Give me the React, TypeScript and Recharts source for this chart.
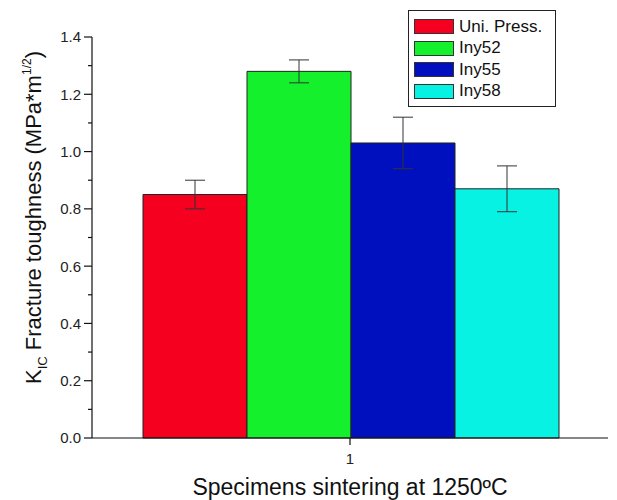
import React from "react";
import { BarChart, Bar, XAxis, YAxis, ErrorBar, Legend } from "recharts";

const categories = ["1"];
const seriesNames = ["Uni. Press.", "Iny52", "Iny55", "Iny58"];
const seriesValues = [0.85, 1.28, 1.03, 0.87];
const seriesErrors = [0.05, 0.04, 0.09, 0.08];
const yTicks = [0, 0.1, 0.2, 0.3, 0.4, 0.5, 0.6, 0.7, 0.8, 0.9, 1.0, 1.1, 1.2, 1.3, 1.4];

const colors = ["#f5001e", "#14f02c", "#0010bf", "#08f2e4"];
const font = "Arial, 'Liberation Sans', sans-serif";

const data = categories.map((name) => {
  const row: Record<string, string | number> = { name };
  seriesValues.forEach((v, i) => {
    row[`v${i}`] = v;
    row[`e${i}`] = seriesErrors[i];
  });
  return row;
});

// major ticks get a label, minor ones only a short line
const YTick = (props: any) => {
  const { x, y, payload } = props;
  const axisX = x + 11;
  const major = Math.round(payload.value * 10) % 2 === 0;
  return (
    <g>
      <line x1={axisX - (major ? 8 : 4)} x2={axisX} y1={y} y2={y} stroke="#111" strokeWidth={1.2} />
      {major && (
        <text x={x} y={y} dy="0.36em" textAnchor="end" fontSize={15} fill="#222" fontFamily={font}>
          {payload.value.toFixed(1)}
        </text>
      )}
    </g>
  );
};

const YLabel = (props: any) => {
  const { viewBox } = props;
  const cx = viewBox.x + 41;
  const cy = viewBox.y + viewBox.height / 2 - 20;
  return (
    <text
      x={cx}
      y={cy}
      transform={`rotate(-90 ${cx} ${cy})`}
      textAnchor="middle"
      fontSize={22}
      fill="#111"
      fontFamily={font}
    >
      K
      <tspan dy={6} fontSize={13}>IC</tspan>
      <tspan dy={-6}> Fracture toughness (MPa*m</tspan>
      <tspan dy={-10} fontSize={12}>1/2</tspan>
      <tspan dy={10}>)</tspan>
    </text>
  );
};

const XLabel = (props: any) => {
  const { viewBox } = props;
  return (
    <text
      x={viewBox.x + viewBox.width / 2}
      y={viewBox.y + viewBox.height - 5}
      textAnchor="middle"
      fontSize={23}
      fill="#111"
      fontFamily={font}
    >
      Specimens sintering at 1250ºC
    </text>
  );
};

const LegendBox = (props: any) => {
  const items = [...(props.payload || [])].sort(
    (a: any, b: any) => seriesNames.indexOf(a.value) - seriesNames.indexOf(b.value)
  );
  return (
    <div
      style={{
        border: "1.5px solid #222",
        background: "#fff",
        padding: "5px 0 0 5px",
        boxSizing: "border-box",
        width: 148,
        height: 97,
        fontFamily: font,
        fontSize: 17,
        color: "#111",
      }}
    >
      {items.map((entry: any) => (
        <div key={entry.value} style={{ display: "flex", alignItems: "center", height: 21.5 }}>
          <span
            style={{
              display: "inline-block",
              width: 40,
              height: 15,
              background: entry.color,
              border: "1px solid #333",
              boxSizing: "border-box",
              marginRight: 5,
            }}
          />
          <span>{entry.value}</span>
        </div>
      ))}
    </div>
  );
};

export default function App() {
  return (
    <div style={{ position: "absolute", left: 0, top: 0, background: "#fff" }}>
      <BarChart
        width={617}
        height={500}
        data={data}
        margin={{ top: 37, right: 9, bottom: 0, left: 0 }}
        barCategoryGap={51}
        barGap={0}
      >
        <XAxis
          dataKey="name"
          height={62}
          axisLine={{ stroke: "#111", strokeWidth: 1.2 }}
          tickLine={{ stroke: "#111", strokeWidth: 1.2 }}
          tickSize={7}
          tickMargin={8}
          tick={{ fontSize: 15, fill: "#222", fontFamily: font }}
          label={{ content: <XLabel /> }}
        />
        <YAxis
          width={92}
          domain={[0, 1.4]}
          ticks={yTicks}
          interval={0}
          axisLine={{ stroke: "#111", strokeWidth: 1.2 }}
          tickLine={{ stroke: "none" }}
          tickSize={8}
          tickMargin={3}
          tick={<YTick />}
          label={{ content: <YLabel /> }}
        />
        <Legend
          content={<LegendBox />}
          layout="horizontal"
          verticalAlign="middle"
          align="center"
          width={148}
          wrapperStyle={{ top: 10, left: 408, width: 148 }}
        />
        {seriesNames.map((name, i) => (
          <Bar
            key={name}
            dataKey={`v${i}`}
            name={name}
            fill={colors[i]}
            stroke="#222"
            strokeWidth={1}
            isAnimationActive={false}
          >
            <ErrorBar dataKey={`e${i}`} width={10} stroke="#333" strokeWidth={1} direction="y" />
          </Bar>
        ))}
      </BarChart>
    </div>
  );
}
